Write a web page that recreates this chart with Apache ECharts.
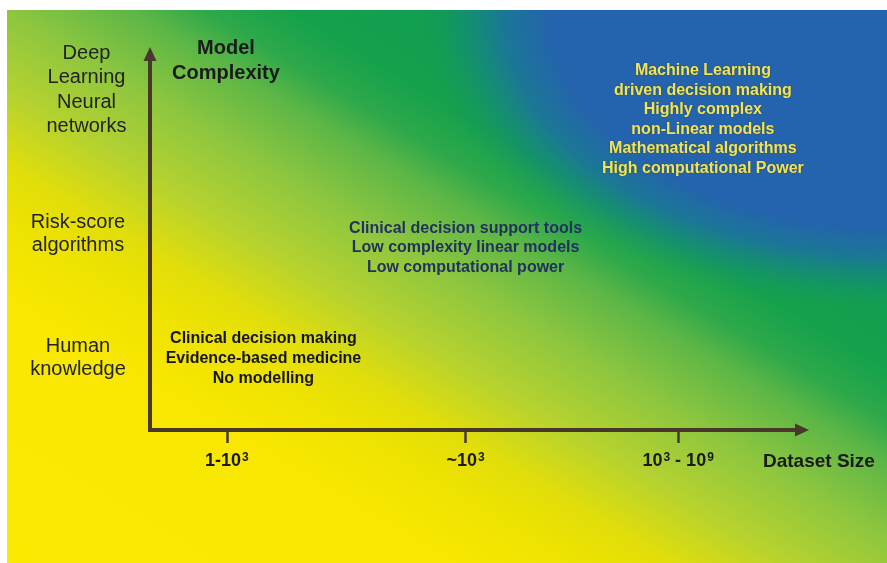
<!DOCTYPE html>
<html><head><meta charset="utf-8">
<script src="https://cdn.jsdelivr.net/npm/echarts@6/dist/echarts.min.js"></script>
<style>html,body{margin:0;padding:0;background:#fff}#c{width:887px;height:563px}</style>
</head><body><div id="c"></div>
<script>
// ---- data ----
const xTickValues = [11.8, 48.4, 81.0];
const xTickLabels = ['1-10^3', '~10^3', '10^3 - 10^9'];
const yTickValues = [90.4, 52.1, 19.1];
const yTickLabels = ['Deep\nLearning\nNeural\nnetworks', 'Risk-score\nalgorithms', 'Human\nknowledge'];
const xAxisName = 'Dataset Size';
const yAxisName = 'Model\nComplexity';
const regionX = [17.4, 48.4, 84.8];
const regionY = [18.9, 48.5, 82.6];
const regionTexts = [
  'Clinical decision making\nEvidence-based medicine\nNo modelling',
  'Clinical decision support tools\nLow complexity linear models\nLow computational power',
  'Machine Learning\ndriven decision making\nHighly complex\nnon-Linear models\nMathematical algorithms\nHigh computational Power'
];

// ---- styles ----
const FONT = "'Liberation Sans', Arial, Helvetica, sans-serif";
const AXIS_COLOR = '#47382b';
const regionColors = ['#141414', '#22315f', '#f3e350'];
const baseStops = [
  [0, '#fbe900'], [0.245, '#f8e700'], [0.309, '#efe300'], [0.362, '#e2de0a'],
  [0.431, '#b5d22f'], [0.505, '#8dc63f'], [0.574, '#5cb646'], [0.612, '#2ea94a'],
  [0.66, '#15a14c'], [0.76, '#0f9d52'], [1, '#0f9a58']
];
const blueStops = [
  [0, 'rgba(36,99,173,1)'], [0.72, 'rgba(36,99,173,1)'], [0.82, 'rgba(30,108,170,0.78)'],
  [0.9, 'rgba(22,124,150,0.42)'], [1, 'rgba(20,150,100,0)']
];
const ELL = 1.557;

const chart = echarts.init(document.getElementById('c'), null, {renderer: 'canvas'});

function idxOf(arr, v) {
  let best = 0, bd = Infinity;
  arr.forEach((a, i) => { const d = Math.abs(a - v); if (d < bd) { bd = d; best = i; } });
  return best;
}

const option = {
  backgroundColor: '#ffffff',
  animation: false,
  grid: { left: 150, right: 85, top: 54, bottom: 133, containLabel: false, outerBoundsMode: 'none' },
  graphic: [
    {
      type: 'rect', z: -100, silent: true,
      shape: { x: 7, y: 10, width: 880, height: 553 },
      style: {
        fill: {
          type: 'linear', global: true,
          x: -246.7, y: 411.4, x2: 236.4, y2: -394.2,
          colorStops: baseStops.map(s => ({ offset: s[0], color: s[1] }))
        }
      }
    },
    {
      type: 'rect', z: -99, silent: true,
      x: 887, y: 10, scaleX: ELL, scaleY: 1,
      shape: { x: -880 / ELL, y: 0, width: 880 / ELL, height: 553 },
      style: {
        fill: {
          type: 'radial', global: true, x: 0, y: 0, r: 300,
          colorStops: blueStops.map(s => ({ offset: s[0], color: s[1] }))
        }
      }
    },
    {
      type: 'text', silent: true, x: 226, y: 61,
      style: {
        text: yAxisName, align: 'center', verticalAlign: 'middle',
        font: 'bold 20px ' + FONT, lineHeight: 25, fill: '#1a1a1a'
      }
    },
    {
      type: 'text', silent: true, x: 763, y: 462,
      style: {
        text: xAxisName, align: 'left', verticalAlign: 'middle',
        font: 'bold 19px ' + FONT, fill: '#1a1a1a'
      }
    }
  ],
  xAxis: {
    type: 'value', min: 0, max: 100,
    splitLine: { show: false },
    axisLine: {
      show: true, symbol: ['none', 'triangle'], symbolSize: [13, 14],
      lineStyle: { color: AXIS_COLOR, width: 4, cap: 'square' }
    },
    axisTick: {
      show: true, customValues: xTickValues, length: 13, inside: false,
      lineStyle: { color: AXIS_COLOR, width: 2.5 }
    },
    axisLabel: {
      show: true, customValues: xTickValues, margin: 21,
      fontFamily: FONT, fontSize: 18, fontWeight: 'bold', color: '#1a1a1a', lineHeight: 20,
      formatter: v => xTickLabels[idxOf(xTickValues, v)].replace(/\^(\d+)/g, '{s|$1}'),
      rich: {
        s: { fontFamily: FONT, fontSize: 12, fontWeight: 'bold', color: '#1a1a1a', verticalAlign: 'top', padding: [1, 0, 0, 1] }
      }
    }
  },
  yAxis: {
    type: 'value', min: 0, max: 100,
    splitLine: { show: false },
    axisLine: {
      show: true, symbol: ['none', 'triangle'], symbolSize: [13, 14],
      lineStyle: { color: AXIS_COLOR, width: 4, cap: 'square' }
    },
    axisTick: { show: false },
    axisLabel: {
      show: true, customValues: yTickValues, margin: 63.5, align: 'center',
      formatter: v => {
        const i = idxOf(yTickValues, v);
        return (i === 0 ? '{a|' : '{b|') + yTickLabels[i] + '}';
      },
      rich: {
        a: { fontFamily: FONT, fontSize: 20, color: '#222222', lineHeight: 24.3, align: 'center' },
        b: { fontFamily: FONT, fontSize: 20, color: '#222222', lineHeight: 23.5, align: 'center', padding: [0, 17, 0, 0] }
      }
    }
  },
  series: [{
    type: 'scatter', silent: true,
    symbolSize: 1,
    itemStyle: { color: 'rgba(0,0,0,0)', opacity: 1 },
    emphasis: { disabled: true },
    data: regionTexts.map((t, i) => ({
      value: [regionX[i], regionY[i]],
      label: {
        show: true, position: 'inside', formatter: t, opacity: 1,
        fontFamily: FONT, fontSize: 16, fontWeight: 'bold',
        color: regionColors[i], lineHeight: i === 0 ? 20 : 19.5, align: 'center',
        textBorderWidth: 0,
        textShadowColor: i === 2 ? 'rgba(30,40,20,0.45)' : 'transparent',
        textShadowBlur: i === 2 ? 2 : 0
      }
    }))
  }]
};
chart.setOption(option);
</script>
</body></html>
